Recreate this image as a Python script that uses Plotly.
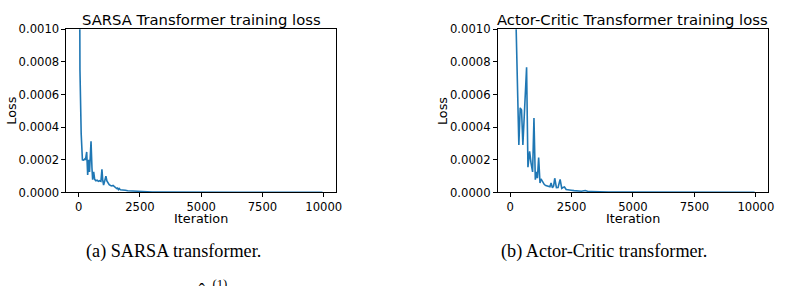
import plotly.graph_objects as go

# ---------------- data ----------------
sarsa_iter = [0, 50, 100, 125, 150, 200, 250, 275, 325, 365, 405, 440, 502, 540, 568, 610,
              650, 700, 750, 800, 850, 906, 947, 980, 1014, 1060, 1109, 1150, 1200, 1244,
              1300, 1350, 1400, 1446, 1500, 1550, 1580, 1620, 1650, 1700, 1784, 1850, 1900,
              2000, 2100, 2190, 2300, 2400, 2500, 2594, 2700, 2800, 3000, 3200, 3500, 4000,
              4500, 5000, 5500, 6000, 6500, 7000, 7500, 8000, 8500, 9000, 9500, 9950]
sarsa_loss = [3.0e-3, 7.5e-4, 3.6e-4, 2.1e-4, 2.0e-4, 1.98e-4, 2.05e-4, 2.0e-4, 2.48e-4, 1.07e-4,
              2.0e-4, 1.25e-4, 3.14e-4, 1.5e-4, 7.8e-5, 1.26e-4, 8.0e-5, 7.2e-5, 7.5e-5, 6.8e-5,
              7.2e-5, 6.8e-5, 1.41e-4, 7.5e-5, 4.5e-5, 7.0e-5, 1.0e-4, 7.0e-5, 5.5e-5, 4.8e-5,
              4.2e-5, 4.0e-5, 4.3e-5, 3.6e-5, 3.0e-5, 2.4e-5, 2.7e-5, 1.8e-5, 2.4e-5, 1.6e-5,
              1.5e-5, 1.2e-5, 1.3e-5, 1.0e-5, 9.0e-6, 1.1e-5, 8.0e-6, 1.0e-5, 7.0e-6, 6.0e-6,
              5.0e-6, 4.0e-6, 3.0e-6, 2.5e-6, 2.0e-6, 1.8e-6, 1.6e-6, 1.5e-6, 1.4e-6, 1.5e-6,
              1.3e-6, 1.4e-6, 1.3e-6, 1.2e-6, 1.3e-6, 1.2e-6, 1.2e-6, 1.1e-6]

ac_iter = [0, 150, 245, 354, 409, 464, 518, 669, 724, 792, 850, 914, 969, 1024, 1078, 1110,
           1160, 1215, 1255, 1300, 1350, 1392, 1450, 1501, 1560, 1620, 1665, 1720, 1770, 1815,
           1883, 1950, 2034, 2100, 2150, 2210, 2280, 2346, 2420, 2483, 2600, 2756, 2900, 3056,
           3150, 3302, 3500, 4000, 4500, 5000, 5500, 6000, 6500, 7000, 7500, 8000, 8500, 9000,
           9500, 9950]
ac_loss = [1.2e-2, 4.0e-3, 1.0e-3, 2.91e-4, 5.18e-4, 5.05e-4, 2.91e-4, 7.67e-4, 1.55e-4, 2.52e-4,
           1.8e-4, 1.26e-4, 4.56e-4, 7.8e-5, 1.26e-4, 8.7e-5, 2.14e-4, 5.8e-5, 8.35e-5, 7.0e-5,
           6.0e-5, 4.85e-5, 4.2e-5, 3.9e-5, 4.0e-5, 3.5e-5, 5.8e-5, 2.9e-5, 4.0e-5, 8.7e-5,
           2.9e-5, 3.0e-5, 8.0e-5, 2.5e-5, 3.0e-5, 3.3e-5, 1.8e-5, 1.55e-5, 1.5e-5, 1.36e-5,
           1.1e-5, 1.0e-5, 7.0e-6, 1.2e-5, 7.0e-6, 6.0e-6, 4.0e-6, 3.0e-6, 2.5e-6, 2.2e-6,
           2.0e-6, 1.9e-6, 1.8e-6, 1.7e-6, 1.6e-6, 1.6e-6, 1.5e-6, 1.5e-6, 1.4e-6, 1.4e-6]

titles = ["SARSA Transformer training loss", "Actor-Critic Transformer training loss"]
captions = ["(a) SARSA transformer.", "(b) Actor-Critic transformer."]
x_label = "Iteration"
y_label = "Loss"
x_ticks = [0, 2500, 5000, 7500, 10000]
x_tick_text = ["0", "2500", "5000", "7500", "10000"]
y_ticks = [0, 0.0002, 0.0004, 0.0006, 0.0008, 0.0010]

# ---------------- layout geometry (pixels) ----------------
W, H = 786, 286
def px(x):
    return x / W
def py(y):
    return 1 - y / H

panels = [(67, 338.5), (501.7, 774)]
top, bottom = 23.3, 195

fig = go.Figure()
series = [(sarsa_iter, sarsa_loss), (ac_iter, ac_loss)]
for i, (xs, ys) in enumerate(series):
    suffix = "" if i == 0 else str(i + 1)
    fig.add_trace(go.Scatter(x=xs, y=ys, mode="lines",
                             line=dict(color="#1f77b4", width=1.6),
                             xaxis="x" + suffix, yaxis="y" + suffix,
                             showlegend=False, hoverinfo="skip"))

axis_common = dict(showline=True, linecolor="black", linewidth=1, mirror=True,
                   ticks="outside", ticklen=4, tickwidth=1, tickcolor="black",
                   showgrid=False, zeroline=False,
                   tickfont=dict(family="DejaVu Sans", size=11.6, color="black"))

layout = dict(width=W, height=H, margin=dict(l=0, r=0, t=0, b=0),
              paper_bgcolor="white", plot_bgcolor="white", showlegend=False)

annotations = []
for i, (x0, x1) in enumerate(panels):
    suffix = "" if i == 0 else str(i + 1)
    layout["xaxis" + suffix] = dict(axis_common, domain=[px(x0), px(x1)],
                                    range=[-500, 10499], tickvals=x_ticks,
                                    ticktext=x_tick_text, anchor="y" + suffix)
    layout["yaxis" + suffix] = dict(axis_common, domain=[py(bottom), py(top)],
                                    range=[0, 0.001], tickvals=y_ticks,
                                    tickformat=".4f", anchor="x" + suffix)
    cx = (x0 + x1) / 2
    annotations.append(dict(text=titles[i], x=px(cx), y=py(13.5), xref="paper", yref="paper",
                            showarrow=False, xanchor="center", yanchor="middle",
                            font=dict(family="DejaVu Sans", size=14.8, color="black")))
    annotations.append(dict(text=x_label, x=px(cx), y=py(222.5), xref="paper", yref="paper",
                            showarrow=False, xanchor="center", yanchor="middle",
                            font=dict(family="DejaVu Sans", size=12.8, color="black")))
    annotations.append(dict(text=y_label, x=px(x0 - 55), y=py((top + bottom) / 2),
                            xref="paper", yref="paper", textangle=-90,
                            showarrow=False, xanchor="center", yanchor="middle",
                            font=dict(family="DejaVu Sans", size=12.8, color="black")))

annotations.append(dict(text=captions[0], x=px(175), y=py(257), xref="paper", yref="paper",
                        showarrow=False, xanchor="center", yanchor="middle",
                        font=dict(family="Liberation Serif", size=18.2, color="black")))
annotations.append(dict(text=captions[1], x=px(609), y=py(257), xref="paper", yref="paper",
                        showarrow=False, xanchor="center", yanchor="middle",
                        font=dict(family="Liberation Serif", size=18.2, color="black")))
# partially visible line of text cut by the bottom edge
annotations.append(dict(text="x̂<sub>k</sub><sup>(1)</sup>:", x=px(196), y=py(297),
                        xref="paper", yref="paper", showarrow=False,
                        xanchor="left", yanchor="middle",
                        font=dict(family="Liberation Serif", size=18.2, color="black")))

layout["annotations"] = annotations
fig.update_layout(**layout)
fig.write_html("out.html")
